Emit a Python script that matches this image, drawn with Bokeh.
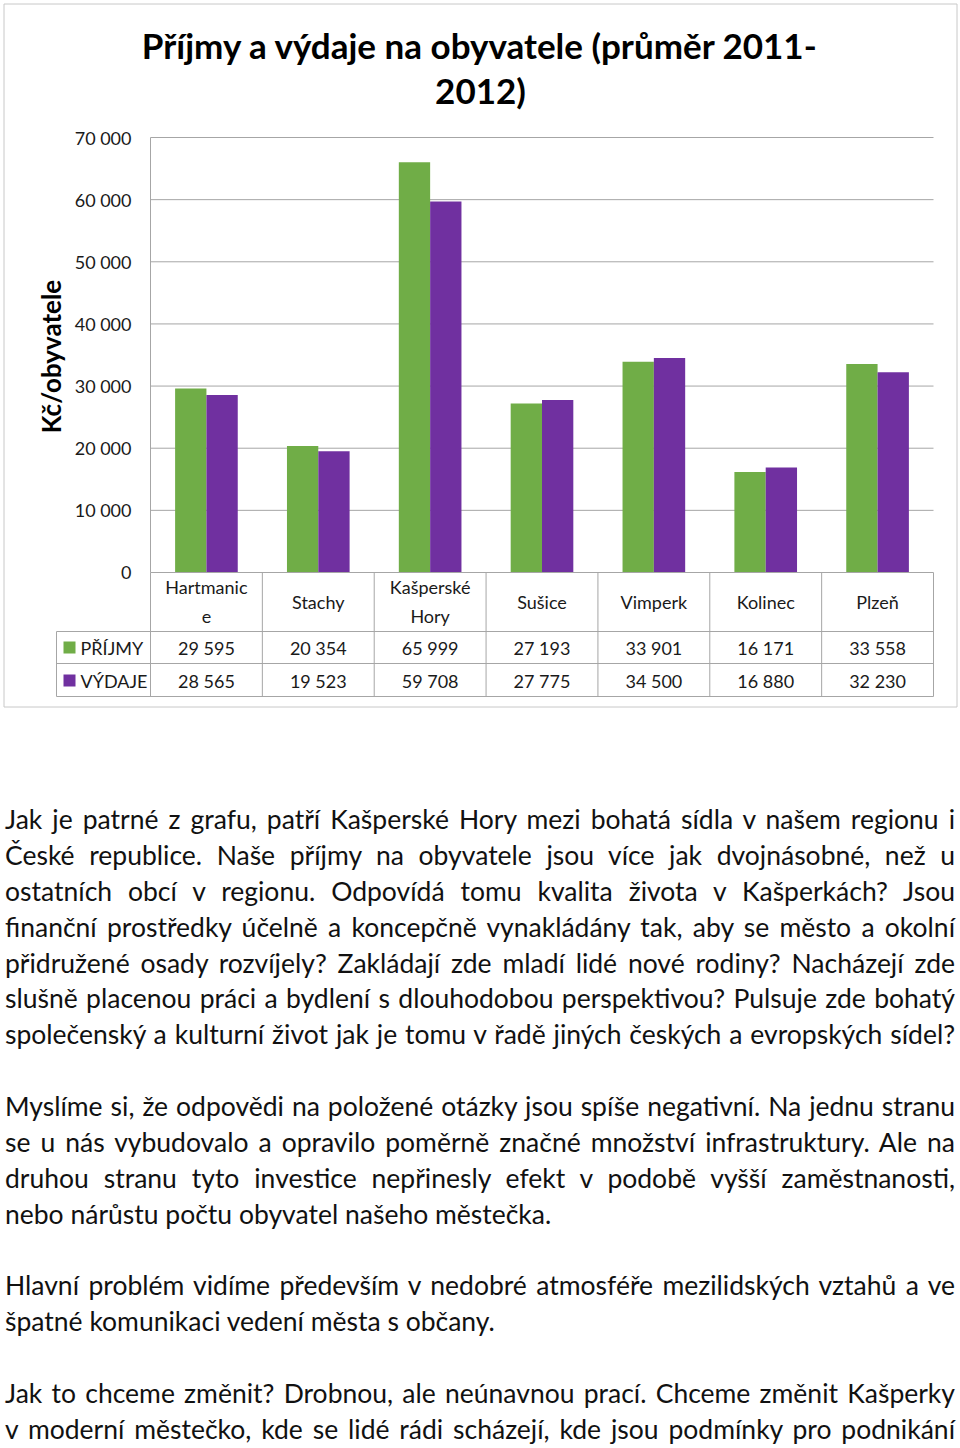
import math
import numpy as np
from bokeh.plotting import figure
from bokeh.models import Range1d, Div
from bokeh.layouts import column
from bokeh.core.properties import value
from bokeh.embed import file_html
from bokeh.resources import INLINE

# ---------------- data ----------------
categories = ["Hartmanice", "Stachy", "Kašperské Hory", "Sušice", "Vimperk", "Kolinec", "Plzeň"]
category_labels = ["Hartmanic\ne", "Stachy", "Kašperské\nHory", "Sušice", "Vimperk", "Kolinec", "Plzeň"]
series_names = ["PŘÍJMY", "VÝDAJE"]
prijmy = [29595, 20354, 65999, 27193, 33901, 16171, 33558]
vydaje = [28565, 19523, 59708, 27775, 34500, 16880, 32230]
y_ticks = [0, 10000, 20000, 30000, 40000, 50000, 60000, 70000]
title_lines = ["Příjmy a výdaje na obyvatele (průměr 2011-", "2012)"]
y_label = "Kč/obyvatele"

paragraphs = [
    [
        "Jak je patrné z grafu, patří Kašperské Hory mezi bohatá sídla v našem regionu i",
        "České republice. Naše příjmy na obyvatele jsou více jak dvojnásobné, než u",
        "ostatních obcí v regionu. Odpovídá tomu kvalita života v Kašperkách? Jsou",
        "finanční prostředky účelně a koncepčně vynakládány tak, aby se město a okolní",
        "přidružené osady rozvíjely? Zakládají zde mladí lidé nové rodiny? Nacházejí zde",
        "slušně placenou práci a bydlení s dlouhodobou perspektivou? Pulsuje zde bohatý",
        "společenský a kulturní život jak je tomu v řadě  jiných českých a evropských sídel?",
    ],
    [
        "Myslíme si, že odpovědi na položené otázky jsou spíše negativní. Na jednu stranu",
        "se u nás vybudovalo a opravilo poměrně značné množství infrastruktury. Ale na",
        "druhou stranu tyto investice nepřinesly efekt v podobě vyšší zaměstnanosti,",
        "nebo nárůstu počtu obyvatel našeho městečka.",
    ],
    [
        "Hlavní problém vidíme především v nedobré atmosféře mezilidských vztahů a ve",
        "špatné komunikaci vedení města s občany.",
    ],
    [
        "Jak to chceme změnit? Drobnou, ale neúnavnou prací. Chceme změnit Kašperky",
        "v moderní městečko, kde se lidé rádi scházejí, kde jsou podmínky pro podnikání",
    ],
]
justified = [
    [True, True, True, True, True, True, True],
    [True, True, True, False],
    [True, False],
    [True, True],
]

# ---------------- styling ----------------
GREEN = "#70AD47"
PURPLE = "#7030A0"
GRID = "#A6A6A6"
FONT = "Lato"
TXT = "#1a1a1a"

W, H = 960, 712
PL, PR, PT, PB = 150, 933, 137, 572  # plot area in px
n = len(categories)
ymax = y_ticks[-1]
sx = (PR - PL) / n
sy = (PB - PT) / ymax


def X(px):
    return (px - PL) / sx


def Y(py):
    return (PB - py) / sy


p = figure(width=W, height=H,
           x_range=Range1d(X(0), X(W)), y_range=Range1d(Y(H), Y(0)),
           min_border=0, toolbar_location=None, output_backend="svg",
           x_axis_location=None, y_axis_location=None)
p.grid.visible = False
p.outline_line_color = None
p.background_fill_color = "white"
p.border_fill_color = "white"

# outer chart border
p.quad(left=[X(3.5)], right=[X(956.5)], top=[Y(3.5)], bottom=[Y(706.5)],
       fill_color=None, line_color="#C8C8C8", line_width=1)

# title
p.text(x=[X(480), X(480)], y=[Y(44), Y(89)], text=title_lines,
       text_font=value(FONT), text_font_style="bold", text_font_size="35px",
       text_align="center", text_baseline="middle", text_color="#000000")

# y label
p.text(x=[X(50)], y=[Y(356)], text=[y_label], angle=math.pi / 2,
       text_font=value(FONT), text_font_style="bold", text_font_size="26px",
       text_align="center", text_baseline="middle", text_color="#000000")

# gridlines
gy = y_ticks[1:]
p.segment(x0=[0] * len(gy), x1=[n] * len(gy), y0=gy, y1=gy,
          line_color=GRID, line_width=1)
# vertical axis line
p.segment(x0=[0], x1=[0], y0=[0], y1=[ymax], line_color=GRID, line_width=1)

# tick labels
tick_text = [f"{t:,}".replace(",", " ") for t in y_ticks]
p.text(x=[X(131)] * len(y_ticks), y=y_ticks, text=tick_text,
       text_font=value(FONT), text_font_size="18px", text_align="right",
       text_baseline="middle", text_color=TXT)

# bars
idx = np.arange(n)
p.vbar(x=idx + 0.36, top=prijmy, bottom=0, width=0.28, fill_color=GREEN, line_color=None)
p.vbar(x=idx + 0.64, top=vydaje, bottom=0, width=0.28, fill_color=PURPLE, line_color=None)

# data table lines
hy = [Y(631), Y(663), Y(696)]
p.segment(x0=[0], x1=[n], y0=[0], y1=[0], line_color=GRID, line_width=1)
p.segment(x0=[X(56)] * 3, x1=[n] * 3, y0=hy, y1=hy, line_color=GRID, line_width=1)
vx = list(range(n + 1))
p.segment(x0=vx, x1=vx, y0=[0] * len(vx), y1=[Y(696)] * len(vx), line_color=GRID, line_width=1)
p.segment(x0=[X(56)], x1=[X(56)], y0=[Y(631)], y1=[Y(696)], line_color=GRID, line_width=1)

# category labels
p.text(x=idx + 0.5, y=[Y(601)] * n, text=category_labels,
       text_font=value(FONT), text_font_size="18px", text_align="center",
       text_baseline="middle", text_line_height=1.3, text_color=TXT)


def fmt(v):
    return f"{v:,}".replace(",", " ")


p.text(x=idx + 0.5, y=[Y(647)] * n, text=[fmt(v) for v in prijmy],
       text_font=value(FONT), text_font_size="18px", text_align="center",
       text_baseline="middle", text_color=TXT)
p.text(x=idx + 0.5, y=[Y(680)] * n, text=[fmt(v) for v in vydaje],
       text_font=value(FONT), text_font_size="18px", text_align="center",
       text_baseline="middle", text_color=TXT)

# legend keys in table
p.scatter(x=[X(69), X(69)], y=[Y(647), Y(680)], marker="square", size=12,
          fill_color=[GREEN, PURPLE], line_color=None)
p.text(x=[X(80), X(80)], y=[Y(647), Y(680)], text=series_names,
       text_font=value(FONT), text_font_size="18px", text_align="left",
       text_baseline="middle", text_color=TXT)

# ---------------- paragraphs ----------------
LH = 35.88
parts = []
for pi_, para in enumerate(paragraphs):
    if pi_ > 0:
        parts.append(f'<div style="height:{LH}px"></div>')
    for li, line in enumerate(para):
        if justified[pi_][li]:
            st = "text-align:justify;text-align-last:justify;"
        else:
            st = "text-align:left;text-align-last:left;"
        parts.append(f'<div style="{st}white-space:normal;">{line}</div>')

html = (f'<div style="box-sizing:border-box;font-family:Lato;font-size:26.5px;line-height:{LH}px;color:#111;'
        f'padding:90px 5px 0 5px;width:960px;">' + "".join(parts) + "</div>")

div = Div(text=html, width=960, height=1448 - H, margin=0,
          styles={"overflow": "hidden", "background-color": "white"})

layout = column(p, div, spacing=0)
open("out.html", "w").write(file_html(layout, INLINE))
